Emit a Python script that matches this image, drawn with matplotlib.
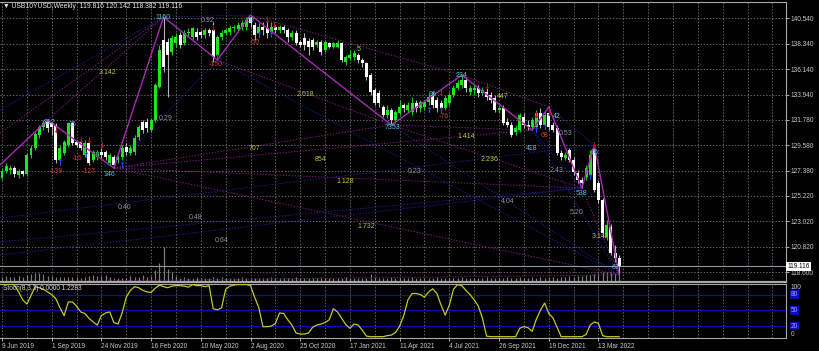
import matplotlib
matplotlib.use("Agg")
import matplotlib.pyplot as plt
import numpy as np

plt.rcParams['font.family'] = ['Liberation Sans', 'DejaVu Sans']

# ---------------- data ----------------
symbol = "USB10YUSD,Weekly"
header_ohlc = "119.816 120.142 118.382 119.116"
last_price = 119.116

opens = [126.75, 127.35, 127.44, 127.61, 127.01, 127.35, 127.09, 128.73, 129.34, 130.46,
         131.15, 131.58, 131.50, 131.33, 128.30, 128.91, 129.60, 131.50, 129.86, 129.86,
         128.73, 129.77, 128.30, 128.56, 128.99, 128.99, 128.04, 128.56, 128.30, 128.56,
         129.43, 128.91, 128.99, 130.29, 131.58, 131.58, 130.89, 131.76, 134.61, 138.67,
         138.49, 137.63, 138.41, 139.10, 138.41, 139.27, 138.92, 139.36, 139.36, 139.10,
         139.53, 139.53, 137.37, 138.92, 139.27, 139.36, 139.70, 139.62, 139.79, 139.79,
         140.57, 139.96, 139.27, 139.79, 139.70, 139.36, 139.79, 139.53, 139.79, 139.53,
         138.92, 139.27, 138.49, 138.84, 138.58, 138.67, 138.23, 138.49, 137.80, 138.41,
         138.06, 138.06, 138.41, 136.77, 137.11, 137.20, 137.37, 136.94, 136.68, 135.64,
         134.35, 134.09, 132.88, 132.19, 132.62, 131.76, 132.36, 133.05, 132.62, 132.45,
         133.22, 132.79, 132.88, 133.31, 133.92, 133.48, 133.22, 132.79, 133.22, 133.92,
         134.52, 134.78, 135.21, 134.18, 134.35, 134.52, 134.09, 134.18, 133.92, 133.66,
         132.62, 132.79, 131.58, 131.33, 130.72, 130.89, 132.02, 131.33, 131.15, 131.15,
         132.36, 131.33, 132.36, 131.33, 131.07, 128.91, 128.48, 129.17, 128.30, 127.18,
         126.58, 126.83, 127.01, 129.17, 126.32, 124.85, 121.65, 122.52, 120.27, 119.816]

closes = [127.35, 127.78, 127.61, 127.09, 127.35, 127.09, 128.73, 129.34, 130.55, 131.15,
          131.50, 131.07, 131.15, 128.30, 129.34, 129.86, 131.50, 129.77, 129.60, 129.34,
          129.77, 128.04, 128.99, 128.99, 128.73, 128.56, 128.73, 127.87, 128.56, 129.34,
          128.99, 129.34, 130.20, 131.15, 130.89, 131.07, 131.76, 134.78, 137.80, 136.33,
          137.37, 138.84, 138.92, 138.23, 139.27, 139.36, 139.70, 138.92, 139.10, 139.53,
          139.27, 137.20, 138.92, 139.27, 139.53, 139.70, 139.79, 139.96, 140.13, 140.39,
          140.13, 139.10, 139.79, 139.53, 139.27, 139.79, 139.53, 139.79, 139.53, 138.92,
          139.27, 138.41, 138.23, 138.23, 138.06, 138.06, 138.49, 137.63, 138.49, 138.06,
          138.41, 138.41, 136.94, 137.20, 137.37, 137.54, 136.94, 136.68, 135.47, 134.18,
          133.22, 133.22, 132.19, 132.62, 131.76, 132.45, 132.88, 132.79, 133.05, 133.22,
          132.79, 133.31, 133.31, 133.74, 133.05, 132.79, 132.79, 133.66, 133.92, 134.52,
          134.95, 135.21, 134.52, 134.52, 134.52, 134.09, 134.35, 133.74, 133.48, 132.62,
          132.79, 131.50, 131.33, 130.46, 131.07, 132.19, 131.33, 131.15, 131.76, 132.36,
          131.33, 132.19, 131.15, 130.89, 128.91, 128.56, 128.73, 128.30, 127.27, 126.58,
          126.32, 127.61, 128.73, 125.71, 124.85, 122.00, 122.69, 120.27, 119.84, 119.116]

highs = [127.61, 128.04, 127.87, 127.78, 127.53, 127.44, 128.91, 129.60, 130.72, 131.33,
         131.76, 131.76, 131.58, 131.50, 129.60, 130.03, 131.58, 131.58, 130.03, 130.03,
         130.03, 130.03, 129.17, 129.17, 129.34, 129.17, 128.91, 128.73, 128.73, 129.60,
         129.77, 129.60, 130.46, 131.33, 131.76, 131.93, 131.93, 134.95, 138.23, 140.65,
         138.84, 139.10, 139.27, 139.36, 139.53, 139.70, 139.79, 139.70, 139.53, 139.70,
         139.70, 140.22, 139.10, 139.53, 139.70, 139.96, 139.96, 140.22, 140.39, 140.65,
         140.82, 140.22, 140.13, 140.22, 140.39, 140.22, 139.96, 139.96, 139.96, 139.70,
         139.53, 139.53, 138.67, 139.27, 138.84, 138.84, 138.67, 138.67, 138.67, 138.49,
         138.49, 138.67, 138.49, 137.37, 137.80, 137.80, 137.54, 137.11, 136.77, 135.82,
         134.52, 134.35, 133.05, 133.05, 132.79, 132.62, 133.48, 133.22, 133.31, 133.74,
         133.48, 133.48, 133.48, 134.09, 134.18, 133.74, 133.48, 133.92, 134.18, 134.78,
         135.21, 135.64, 135.47, 134.78, 134.95, 134.78, 134.61, 134.52, 134.18, 133.92,
         133.05, 133.05, 131.93, 131.58, 131.33, 132.36, 132.36, 131.76, 132.02, 132.62,
         132.79, 132.45, 132.88, 131.58, 131.33, 129.17, 128.99, 129.34, 128.56, 127.44,
         126.83, 127.87, 129.17, 129.60, 126.58, 125.02, 123.12, 122.78, 120.96, 120.142]

lows = [126.58, 127.18, 127.09, 126.83, 126.75, 126.92, 126.92, 128.48, 129.17, 130.20,
        130.89, 130.72, 130.46, 128.04, 127.87, 128.73, 129.43, 129.60, 129.43, 129.17,
        128.56, 127.87, 128.13, 128.30, 128.48, 128.30, 127.87, 127.61, 128.04, 128.30,
        128.73, 128.73, 128.73, 130.03, 130.63, 130.72, 130.72, 131.58, 134.52, 135.90,
        133.74, 137.37, 138.06, 137.97, 138.23, 138.92, 138.67, 138.67, 138.84, 138.84,
        139.01, 136.77, 136.94, 138.67, 139.10, 139.10, 139.36, 139.36, 139.53, 139.53,
        139.79, 138.67, 138.92, 139.10, 138.84, 139.10, 139.27, 139.27, 139.27, 138.49,
        138.67, 138.23, 138.06, 137.80, 137.37, 137.80, 138.06, 137.37, 137.63, 137.97,
        137.97, 137.97, 136.77, 136.51, 136.94, 136.94, 136.68, 136.33, 135.21, 133.92,
        133.05, 132.88, 132.02, 131.93, 131.33, 131.50, 132.19, 132.45, 132.36, 132.19,
        132.45, 132.45, 132.62, 133.05, 132.79, 132.45, 132.45, 132.62, 133.05, 133.74,
        134.35, 134.52, 134.18, 133.92, 133.92, 133.74, 133.92, 133.48, 133.22, 132.45,
        132.36, 131.33, 131.15, 130.29, 130.46, 130.72, 131.07, 130.89, 130.89, 130.89,
        131.07, 131.15, 130.89, 130.72, 128.73, 128.30, 128.30, 128.13, 127.01, 126.32,
        125.88, 126.58, 126.83, 125.54, 124.59, 121.65, 121.39, 120.10, 119.49, 118.382]

volumes = [5, 6, 5, 5, 6, 5, 7, 8, 9, 9, 8, 6, 6,
           5, 5, 5, 5, 5, 5, 4, 5, 6, 7, 6, 6, 7, 5, 4, 4, 4, 4, 6, 5, 5, 7, 5, 6,
           12, 19, 35, 13, 10, 6,
           4, 5, 4, 4, 5, 4, 4, 4, 5, 4, 5, 4, 4, 4, 4, 5, 4, 4, 4, 4,
           4, 4, 5, 4, 4, 4, 4, 4, 5, 4, 4, 4, 4, 4, 5, 4, 4, 4, 4, 4,
           5, 4, 4, 4, 4, 4,
           8,
           5, 4, 4, 4, 5, 4, 4, 4, 4, 5, 4, 4, 4, 4, 4, 5, 4, 4, 4, 4,
           4, 5, 4, 4, 4, 4, 4, 5, 4, 4, 4, 4, 5, 4, 4, 5, 4, 4, 5, 4,
           5, 4, 5, 5, 4, 5, 5, 6, 5, 6,
           6, 7, 7, 8, 9, 10, 10, 10, 9, 7]

stoch_k = [100, 100, 100, 98, 85, 70, 62, 78, 95, 93,
           90, 85, 80, 72, 55, 40, 66, 66, 58, 47,
           44, 35, 28, 22, 40, 45, 47, 27, 24, 45,
           75, 88, 95, 93, 88, 85, 84, 92, 98, 95,
           93, 96, 97, 97, 96, 94, 99, 97, 97, 95,
           97, 53, 51, 55, 90, 96, 98, 99, 99, 99,
           97, 75, 55, 19, 19, 20, 25, 45, 44, 32,
           22, 7, 5, 5, 7, 18, 22, 24, 27, 32,
           53, 47, 35, 23, 16, 24, 22, 12, 1, 0,
           0, 0, 0, 2, 3, 8, 20, 40, 70, 82,
           82, 80, 75, 85, 91, 82, 60, 41, 60, 90,
           99, 97, 88, 80, 70, 58, 35, 1, 0, 0,
           0, 0, 0, 0, 0, 16, 19, 17, 10, 33,
           50, 64, 44, 36, 18, 0, 0, 0, 0, 0,
           0, 4, 22, 28, 25, 2, 0, 0, 0, 0]
stoch_levels = [80, 50, 20]
stoch_label = "Stoch(8,3,3) 0.0000 1.2283"

date_labels = ['9 Jun 2019', '1 Sep 2019', '24 Nov 2019', '16 Feb 2020', '10 May 2020',
               '2 Aug 2020', '25 Oct 2020', '17 Jan 2021', '11 Apr 2021', '4 Jul 2021',
               '26 Sep 2021', '19 Dec 2021', '13 Mar 2022']
price_ticks = [140.540, 138.340, 136.140, 133.940, 131.780, 129.580, 127.380,
               125.220, 123.020, 120.820, 118.600]

# zigzag swing points (bar index, price)
swing_names = ['A', 'B', 'D', 'E', 'F', 'G', 'H', 'I', 'J', 'K', 'L', 'M', 'N']
swing_idx = [-0.5, 11, 27, 39, 52, 60, 94, 111, 128, 132, 140, 143, 149]
swing_price = [127.87, 131.76, 127.61, 140.65, 136.94, 140.82, 131.33, 135.64,
               130.89, 132.88, 125.88, 129.60, 118.38]

purple_links = [('B', 'E'), ('F', 'H'), ('G', 'I'), ('H', 'J'), ('I', 'K'), ('L', 'N'),
                ('D', 'H'), ('D', 'J'), ('D', 'L'), ('D', 'N'), ('H', 'L')]
blue_links = [('E', 'G'), ('D', 'F'), ('J', 'L'), ('K', 'M'), ('F', 'N'), ('H', 'N'), ('J', 'N')]
purple_offchart = [(-0.5, 130.63, 'E'), (-0.5, 117.77, 'N')]
blue_offchart = [(-0.5, 132.62, 'E'), (-0.5, 123.29, 'M'), (-0.5, 121.22, 'L'), (-0.5, 120.10, 'L')]

cyan_labels = [("912", 11.6, 131.58), ("15", 16.9, 131.33), ("146", 26, 127.09),
               ("1160", 38.9, 140.57), ("59", 60, 140.31), ("7353", 94.4, 131.15),
               ("96", 104, 133.92), ("234", 111, 135.64), ("418", 128, 129.34),
               ("42", 134.0, 132.10), ("06", 143, 128.99), ("538", 140, 125.37),
               ("67", 148, 118.98)]
red_labels = [("-139", 13, 127.35), ("-16", 18.0, 128.45), ("-127", 21, 127.27),
              ("-150", 51.7, 136.51), ("-50", 61, 138.45), ("-76", 106.6, 132.05),
              ("68", 131, 130.46)]
gray_labels = [("0.92", 49.7, 140.39), ("0.29", 39.4, 131.93), ("0.53", 136, 130.63),
               ("2.43", 134, 127.44), ("0.23", 99.7, 127.35), ("4.04", 122, 124.68),
               ("5.20", 138.8, 123.73), ("0.40", 29.7, 124.24), ("0.48", 46.8, 123.38),
               ("0.64", 52.9, 121.39)]
yellow_labels = [("3.142", 25.6, 135.90), ("2.618", 73.2, 134.00), ("707", 61, 129.34),
                 ("854", 76.8, 128.39), ("1.128", 82.8, 126.49), ("1.732", 87.9, 122.60),
                 ("1.414", 112, 130.37), ("2.236", 117.8, 128.39), ("447", 121, 133.83),
                 ("5", 86, 137.89), ("3.142", 144.4, 121.74)]
down_arrows = [(13, 130.89), (19, 130.03), (21, 130.03), (24, 129.60), (51, 139.62),
               (64, 140.39), (65.6, 139.96), (106, 134.09), (117, 134.61), (129, 132.19),
               (132, 132.36), (143, 129.60)]
up_arrows = [(14, 128.13), (20.3, 128.73), (23, 128.73), (29, 127.87), (52, 137.20),
             (62, 139.10), (65, 139.10), (103, 132.62), (106, 132.62), (129, 130.89),
             (131, 131.07), (142, 126.83)]

# ---------------- figure ----------------
FW, FH = 819, 351
fig = plt.figure(figsize=(FW / 100, FH / 100), dpi=100, facecolor='black')


def rect(l, t, r, b):
    return [l / FW, 1 - b / FH, (r - l) / FW, (b - t) / FH]


XL = (-0.483, 189.28)
FS = 4.7
TXT = '#c8c8c8'
GRID = '#8c8c8c'
PURPLE_DOT = '#741a78'
BLUE_DOT = '#1c1c86'
DOTS = (0, (1.5, 1.5))

axv = fig.add_axes(rect(0, 2, 786, 282), facecolor='black')
ax = fig.add_axes(rect(0, 2, 786, 282), facecolor='none')
ax2 = fig.add_axes(rect(0, 283.5, 786, 338), facecolor='black')

o = np.array(opens); c = np.array(closes); h = np.array(highs); lo = np.array(lows)
n = len(c)
idx = np.arange(n)

# volume
axv.set_xlim(XL)
axv.set_ylim(0, 280)
axv.vlines(idx, 0, volumes, colors='#7c7c7c', linewidth=0.9)
axv.axis('off')

# main axes
ax.set_xlim(XL)
ax.set_ylim(117.77, 141.95)
ax.set_xticks(np.arange(0, 190, 6))
ax.tick_params(axis='x', length=0, labelbottom=False)
ax.yaxis.tick_right()
ax.set_yticks(price_ticks)
ax.set_yticklabels([f"{p:.3f}" for p in price_ticks])
ax.tick_params(axis='y', colors=TXT, labelsize=FS, length=2, width=0.6, pad=1.5)
ax.grid(True, color=GRID, linestyle=(0, (2, 2.5)), linewidth=0.5)
ax.set_axisbelow(True)
ax.spines['left'].set_visible(False)
for s in ['top', 'right']:
    ax.spines[s].set_color('#a8a8a8')
    ax.spines[s].set_linewidth(0.8)
ax.spines['bottom'].set_color('#a8a8a8')
ax.spines['bottom'].set_linewidth(1.6)

# dotted fib lines
sw = {nm: (si, sp) for nm, si, sp in zip(swing_names, swing_idx, swing_price)}
for a, b in purple_links:
    ax.plot([sw[a][0], sw[b][0]], [sw[a][1], sw[b][1]], color=PURPLE_DOT,
            linestyle=DOTS, linewidth=0.7, zorder=2)
for a, b in blue_links:
    ax.plot([sw[a][0], sw[b][0]], [sw[a][1], sw[b][1]], color=BLUE_DOT,
            linestyle=DOTS, linewidth=0.7, zorder=2)
for si, sp, b in purple_offchart:
    ax.plot([si, sw[b][0]], [sp, sw[b][1]], color=PURPLE_DOT,
            linestyle=DOTS, linewidth=0.7, zorder=2)
for si, sp, b in blue_offchart:
    ax.plot([si, sw[b][0]], [sp, sw[b][1]], color=BLUE_DOT,
            linestyle=DOTS, linewidth=0.7, zorder=2)

# current price line
ax.axhline(last_price, color='#8e9aa8', linewidth=0.8, zorder=2)

# candles
up = c > o
body_bot = np.minimum(o, c)
body_h = np.maximum(np.abs(c - o), 0.07)
ax.vlines(idx, lo, h, colors=np.where(up, '#18c818', '#b4b4b4'), linewidth=0.8, zorder=3)
ax.bar(idx, body_h, bottom=body_bot, width=0.72,
       color=np.where(up, '#1ee61e', '#ffffff'), linewidth=0, zorder=4)

# zigzag
ax.plot(swing_idx, swing_price, color='#a62cb4', linewidth=1.0, zorder=5)

# labels
for t, xi, yp in cyan_labels:
    ax.text(xi, yp, t, color='#52c6d2', fontsize=FS + 0.3, ha='center', va='center', zorder=6)
for t, xi, yp in red_labels:
    ax.text(xi, yp, t, color='#d23838', fontsize=FS + 0.3, ha='center', va='center', zorder=6)
for t, xi, yp in gray_labels:
    ax.text(xi, yp, t, color='#8c94a8', fontsize=FS + 0.3, ha='center', va='center', zorder=6)
for t, xi, yp in yellow_labels:
    ax.text(xi, yp, t, color='#b4c83a', fontsize=FS + 0.3, ha='center', va='center', zorder=6)
for xi, yp in down_arrows:
    ax.text(xi, yp, '\u2193', color='#b01414', fontsize=6, fontweight='bold',
            ha='center', va='center', zorder=6, family=['DejaVu Sans'])
for xi, yp in up_arrows:
    ax.text(xi, yp, '\u2191', color='#1e46ff', fontsize=6, fontweight='bold',
            ha='center', va='center', zorder=6, family=['DejaVu Sans'])

# price box
ax.text(1.002, last_price, f"{last_price:.3f}", transform=ax.get_yaxis_transform(),
        ha='left', va='center', fontsize=FS, color='black', clip_on=False, zorder=7,
        bbox=dict(boxstyle='square,pad=0.18', fc='white', ec='none'))

# title
fig.text(3 / FW, 1 - 6.5 / FH, '\u25bc ' + symbol + '  ' + header_ohlc, color='#e6e6e6',
         fontsize=FS + 0.2, ha='left', va='center')

# stochastic panel
ax2.set_xlim(XL)
ax2.set_ylim(-2.5, 101)
ax2.plot(idx, stoch_k, color='#c8c81e', linewidth=0.9, zorder=4)
for lv in stoch_levels:
    ax2.axhline(lv, color='#0c0cb8', linewidth=0.9, zorder=3)
ax2.set_xticks(np.arange(0, 12 * len(date_labels), 12))
ax2.set_xticklabels(date_labels)
ax2.set_xticks(np.arange(0, 190, 6), minor=True)
ax2.tick_params(axis='x', which='major', colors=TXT, labelsize=FS, length=2, width=0.6, pad=1.5)
ax2.tick_params(axis='x', which='minor', length=0)
for lab in ax2.get_xticklabels():
    lab.set_ha('left')
ax2.set_yticks([])
ax2.grid(True, which='both', axis='x', color=GRID, linestyle=(0, (2, 2.5)), linewidth=0.5)
ax2.set_axisbelow(True)
ax2.spines['left'].set_visible(False)
for s in ['top', 'right', 'bottom']:
    ax2.spines[s].set_color('#a8a8a8')
    ax2.spines[s].set_linewidth(0.8)
ax2.text(0.004, 0.9, stoch_label, transform=ax2.transAxes, fontsize=FS, color='#d8d8d8',
         ha='left', va='center', zorder=6)
ytr = ax2.get_yaxis_transform()
ax2.text(1.006, 93, '100', transform=ytr, fontsize=FS, color=TXT, ha='left', va='center', clip_on=False)
ax2.text(1.006, 5, '0', transform=ytr, fontsize=FS, color=TXT, ha='left', va='center', clip_on=False)
for lv in stoch_levels:
    ax2.text(1.006, lv, str(lv), transform=ytr, fontsize=FS, color='#a0a4ff', ha='left',
             va='center', clip_on=False,
             bbox=dict(boxstyle='square,pad=0.1', fc='#0c0cb8', ec='none'))

fig.savefig('out.png', dpi=100, facecolor='black')
